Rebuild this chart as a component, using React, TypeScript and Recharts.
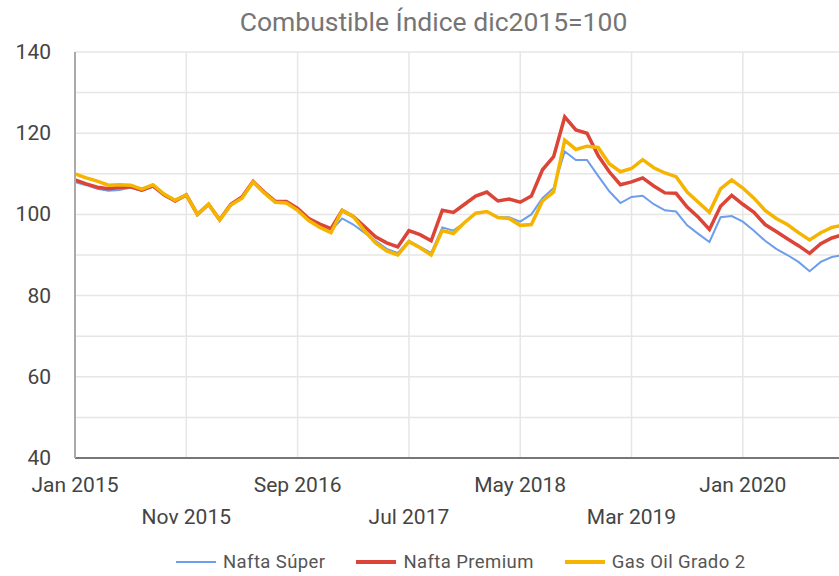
import { LineChart, Line, XAxis, YAxis, CartesianGrid } from "recharts"

const monthNames = ["Jan", "Feb", "Mar", "Apr", "May", "Jun", "Jul", "Aug", "Sep", "Oct", "Nov", "Dec"]
const years = [2015, 2016, 2017, 2018, 2019, 2020]

// one category per month, Jan 2015 .. Oct 2020
const categories: string[] = []
years.forEach((yr) => monthNames.forEach((m) => categories.push(`${m} ${yr}`)))
categories.length = 70

const naftaSuper = [
  108, 107.2, 106.3, 105.8, 106, 106.6, 105.8, 106.8, 104.6, 103.2, 104.7, 100,
  102.4, 98.6, 102.3, 104, 108, 105.2, 103, 103, 101.2, 98.7, 97.2, 96,
  99, 97.5, 95.5, 93.5, 91.5, 90.5, 93.5, 92, 90.5, 96.8, 96, 98,
  100.3, 100.7, 99.3, 99.3, 98.2, 100, 104, 106.5, 115.5, 113.4, 113.4, 109.5,
  105.7, 102.8, 104.3, 104.6, 102.5, 101, 100.7, 97.3, 95.2, 93.2, 99.3, 99.6,
  98.2, 96, 93.5, 91.5, 90, 88.3, 86, 88.3, 89.5, 90,
]
const naftaPremium = [
  108.5, 107.5, 106.7, 106.3, 106.6, 106.8, 106, 107, 104.8, 103.3, 104.8, 100,
  102.5, 98.7, 102.5, 104.3, 108.1, 105.5, 103.2, 103.2, 101.5, 99, 97.6, 96.5,
  101, 99.5, 97, 94.5, 93, 92, 96, 95, 93.5, 101, 100.5, 102.5,
  104.5, 105.5, 103.3, 103.8, 103, 104.5, 111, 114.2, 124, 120.8, 120, 114.5,
  110.5, 107.3, 108, 109, 107, 105.3, 105.2, 101.8, 99.3, 96.3, 102, 104.7,
  102.5, 100.5, 97.5, 95.8, 94, 92.3, 90.4, 92.8, 94.2, 95,
]
const gasOil = [
  110, 109, 108.2, 107.2, 107.3, 107.2, 106.2, 107.3, 105, 103.5, 104.8, 100,
  102.5, 98.6, 102.3, 104, 108, 105.3, 103, 102.8, 101, 98.5, 96.8, 95.5,
  101, 99.5, 96, 93, 91, 90, 93.3, 91.8, 90, 96, 95.3, 98,
  100.3, 100.7, 99.2, 99, 97.3, 97.5, 103.3, 105.5, 118.3, 116, 116.8, 116.5,
  112.5, 110.5, 111.3, 113.5, 111.5, 110.2, 109.3, 105.5, 103, 100.5, 106.3, 108.5,
  106.5, 104, 101, 99, 97.5, 95.5, 93.7, 95.5, 96.8, 97.3,
]

const xTicks = [0, 10, 20, 30, 40, 50, 60]
const yTicks = [40, 50, 60, 70, 80, 90, 100, 110, 120, 130, 140]

const data = categories.map((name, i) => ({
  i,
  name,
  super: naftaSuper[i],
  premium: naftaPremium[i],
  gasoil: gasOil[i],
}))

const series = [
  { key: "super", name: "Nafta Súper", color: "#6d9eeb", width: 2 },
  { key: "premium", name: "Nafta Premium", color: "#db4437", width: 3.5 },
  { key: "gasoil", name: "Gas Oil Grado 2", color: "#f4b400", width: 3.5 },
]

const font = "Roboto, 'Noto Sans', sans-serif"

function XTick(props: any) {
  const { x, y, payload } = props
  const row = (payload.value / 10) % 2
  return (
    <text x={x} y={y + 27 + row * 32} textAnchor="middle" dominantBaseline="central"
      fill="#444" fontSize={21} fontFamily={font}>
      {categories[payload.value]}
    </text>
  )
}

function YTick(props: any) {
  const { y, payload } = props
  if (payload.value % 20 !== 0) return null
  return (
    <text x={51} y={y} textAnchor="end" dominantBaseline="central"
      fill="#444" fontSize={21} fontFamily={font}>
      {payload.value}
    </text>
  )
}

export default function App() {
  return (
    <div style={{ position: "absolute", left: 0, top: 0, width: 839, height: 576, overflow: "hidden", background: "#fff", fontFamily: font }}>
      <div style={{ position: "absolute", left: 0, top: 6, width: 867, textAlign: "center", fontSize: 26.5, color: "#757575" }}>
        Combustible Índice dic2015=100
      </div>
      <LineChart width={860} height={576} data={data} margin={{ top: 52, right: 17, left: 0, bottom: 58 }}>
        <CartesianGrid stroke="#e6e6e6" strokeWidth={1.5} horizontalValues={yTicks} verticalValues={xTicks} />
        <XAxis dataKey="i" type="number" domain={[0, 69]} ticks={xTicks} interval={0}
          tick={<XTick />} tickLine={false} tickSize={0} tickMargin={0} height={60}
          axisLine={{ stroke: "#777", strokeWidth: 2 }} />
        <YAxis domain={[40, 140]} ticks={yTicks} interval={0} tick={<YTick />} tickLine={false}
          tickSize={0} tickMargin={0} width={75} axisLine={{ stroke: "#aaa", strokeWidth: 2 }} />
        {series.map((s) => (
          <Line key={s.key} dataKey={s.key} name={s.name} stroke={s.color} strokeWidth={s.width}
            dot={false} type="linear" isAnimationActive={false} />
        ))}
      </LineChart>
      <div style={{ position: "absolute", left: 176, top: 551, display: "flex", alignItems: "center", fontSize: 18.5, letterSpacing: 0.4, color: "#555" }}>
        {series.map((s) => (
          <div key={s.key} style={{ display: "flex", alignItems: "center", marginRight: 31 }}>
            <div style={{ width: 40, height: s.width, background: s.color, marginRight: 7 }} />
            <span>{s.name}</span>
          </div>
        ))}
      </div>
    </div>
  )
}
